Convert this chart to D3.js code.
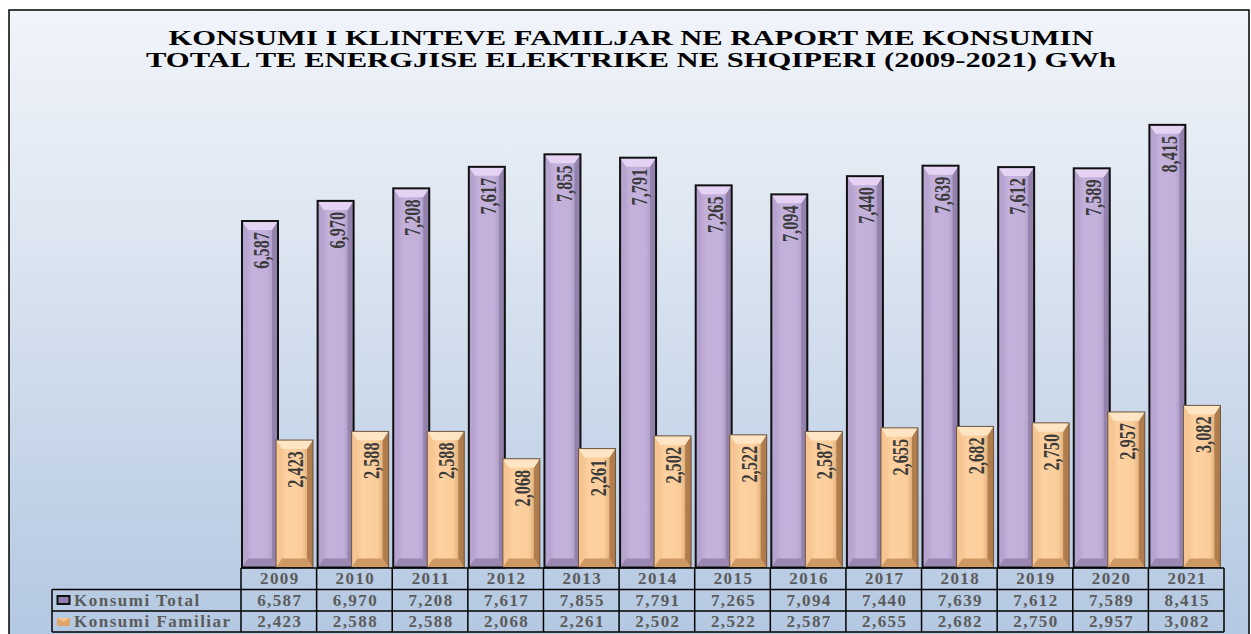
<!DOCTYPE html>
<html lang="en">
<head>
    <meta charset="UTF-8">
    <title>Konsumi i klienteve familjar</title>
    <script src="https://d3js.org/d3.v7.min.js"></script>
    <style>
        body { margin: 0; background: #ffffff; }
        svg { display: block; }
    </style>
</head>
<body>
    <div id="chart"></div>
    <script>
        const years = ["2009", "2010", "2011", "2012", "2013", "2014", "2015", "2016", "2017", "2018", "2019", "2020", "2021"];
        const konsumiTotal = [6587, 6970, 7208, 7617, 7855, 7791, 7265, 7094, 7440, 7639, 7612, 7589, 8415];
        const konsumiFamiliar = [2423, 2588, 2588, 2068, 2261, 2502, 2522, 2587, 2655, 2682, 2750, 2957, 3082];
        const seriesNames = ["Konsumi Total", "Konsumi Familiar"];
        const titleLines = [
            "KONSUMI I KLINTEVE FAMILJAR NE RAPORT ME KONSUMIN",
            "TOTAL TE ENERGJISE ELEKTRIKE NE SHQIPERI (2009-2021) GWh"
        ];

        const W = 1251, H = 634;
        const fmt = d3.format(",");

        const svg = d3.select("#chart").append("svg")
            .attr("width", W)
            .attr("height", H);

        const defs = svg.append("defs");
        const bg = defs.append("linearGradient").attr("id", "bg")
            .attr("x1", 0).attr("y1", 0).attr("x2", 0).attr("y2", 1);
        bg.append("stop").attr("offset", "0%").attr("stop-color", "#f1f4fa");
        bg.append("stop").attr("offset", "35%").attr("stop-color", "#dde6f1");
        bg.append("stop").attr("offset", "100%").attr("stop-color", "#b2c7e1");

        // bar palettes (face gradient + bevels)
        const palettes = {
            total: { id: "gTot", stops: ["#ad9bc6", "#c4b2dd", "#c2b0db", "#9f8eb8"],
                     top: "#e6d3f3", bottom: "#9a88b3", left: "#b7a4d0", right: "#8f7ea8", stroke: "#111" },
            fam: { id: "gFam", stops: ["#f0bd88", "#fdd1a1", "#fbcd9b", "#c9935f"],
                   top: "#ffe5c3", bottom: "#cf9964", left: "#f6c692", right: "#a97547", stroke: "#6b5440" }
        };
        Object.values(palettes).forEach(p => {
            const g = defs.append("linearGradient").attr("id", p.id)
                .attr("x1", 0).attr("y1", 0).attr("x2", 1).attr("y2", 0);
            [0, 0.3, 0.7, 1].forEach((o, i) => g.append("stop").attr("offset", o).attr("stop-color", p.stops[i]));
        });

        // background + frame
        svg.append("rect").attr("x", 9).attr("y", 10).attr("width", 1240).attr("height", 640)
            .attr("fill", "url(#bg)").attr("stroke", "#000").attr("stroke-width", 1.5);

        // title
        svg.selectAll(".title").data(titleLines).enter().append("text")
            .attr("x", 631)
            .attr("y", (d, i) => 45 + i * 22)
            .attr("text-anchor", "middle")
            .attr("textLength", (d, i) => i === 0 ? 925 : 970)
            .attr("lengthAdjust", "spacingAndGlyphs")
            .style("font-family", "'Liberation Serif', 'Times New Roman', serif")
            .style("font-weight", "bold")
            .style("font-size", "21px")
            .attr("fill", "#000")
            .text(d => d);

        const x = d3.scaleBand().domain(years).range([241, 1224]);
        const y = d3.scaleLinear().domain([0, 10000]).range([567.5, 41.5]);

        function bevelBar(g, bx, by, bw, bh, p) {
            const b = 9, s = 6;
            const x0 = bx, x1 = bx + bw, y0 = by, y1 = by + bh;
            g.append("rect").attr("x", x0).attr("y", y0).attr("width", bw).attr("height", bh)
                .attr("fill", `url(#${p.id})`);
            g.append("polygon").attr("points", [[x0, y0], [x0 + s, y0 + b], [x0 + s, y1 - b], [x0, y1]].join(" "))
                .attr("fill", p.left).attr("opacity", 0.8);
            g.append("polygon").attr("points", [[x1, y0], [x1 - s, y0 + b], [x1 - s, y1 - b], [x1, y1]].join(" "))
                .attr("fill", p.right).attr("opacity", 0.85);
            g.append("polygon").attr("points", [[x0, y0], [x1, y0], [x1 - s, y0 + b], [x0 + s, y0 + b]].join(" "))
                .attr("fill", p.top);
            g.append("polygon").attr("points", [[x0, y1], [x1, y1], [x1 - s, y1 - b], [x0 + s, y1 - b]].join(" "))
                .attr("fill", p.bottom);
            g.append("rect").attr("x", x0).attr("y", y0).attr("width", bw).attr("height", bh)
                .attr("fill", "none").attr("stroke", p.stroke)
                .attr("stroke-width", p === palettes.total ? 2 : 1);
        }

        const labelFont = "'Liberation Serif', 'Times New Roman', serif";
        function barLabel(cx, top, v) {
            svg.append("text")
                .attr("transform", `translate(${cx},${top + 11}) rotate(-90) scale(0.68,1)`)
                .attr("text-anchor", "end")
                .attr("dominant-baseline", "central")
                .style("font-family", labelFont)
                .style("font-weight", "bold")
                .style("font-size", "24px")
                .attr("fill", "#3a3a3a")
                .text(fmt(v));
        }

        years.forEach((yr, i) => {
            const g = svg.append("g");
            const bx = x(yr);
            const tTop = y(konsumiTotal[i]);
            bevelBar(g, bx + 1, tTop, 36, y(0) - tTop, palettes.total);
            const fTop = y(konsumiFamiliar[i]);
            bevelBar(g, bx + 35, fTop, 37, y(0) - fTop, palettes.fam);
            barLabel(bx + 20, tTop, konsumiTotal[i]);
            barLabel(bx + 54, fTop, konsumiFamiliar[i]);
        });

        // data table
        const table = svg.append("g");
        const rows = [568, 589.5, 611, 632];
        const cellFont = { family: "'Liberation Serif', 'Times New Roman', serif", size: "17px" };
        const line = (x1, y1, x2, y2) => table.append("line")
            .attr("x1", x1).attr("y1", y1).attr("x2", x2).attr("y2", y2)
            .attr("stroke", "#000").attr("stroke-width", 1.5);

        line(241, rows[0], 1224, rows[0]);
        line(52, rows[1], 1224, rows[1]);
        line(52, rows[2], 1224, rows[2]);
        line(52, rows[3], 1224, rows[3]);
        line(52, rows[1], 52, rows[3]);
        years.forEach(yr => line(x(yr), rows[0], x(yr), rows[3]));
        line(1224, rows[0], 1224, rows[3]);

        const cellText = (tx, ty, t, anchor, ls) => table.append("text")
            .attr("x", tx).attr("y", ty)
            .attr("text-anchor", anchor || "middle")
            .style("font-family", cellFont.family)
            .style("font-weight", "bold")
            .style("font-size", cellFont.size)
            .style("letter-spacing", ls || "1.4px")
            .attr("fill", "#5b5b5b")
            .text(t);

        years.forEach((yr, i) => {
            const cx = x(yr) + x.bandwidth() / 2 + 1;
            cellText(cx, rows[0] + 16, yr);
            cellText(cx, rows[1] + 16, fmt(konsumiTotal[i]));
            cellText(cx, rows[2] + 16, fmt(konsumiFamiliar[i]));
        });

        // legend keys in table
        table.append("rect").attr("x", 57.5).attr("y", 596).attr("width", 12).attr("height", 8)
            .attr("fill", "#8f7eab").attr("stroke", "#111").attr("stroke-width", 2);
        table.append("rect").attr("x", 57).attr("y", 618).attr("width", 13).attr("height", 8)
            .attr("fill", "#f6c28e");
        table.append("polygon").attr("points", "57,618 63.5,622 70,618 70,626 57,626")
            .attr("fill", "#d9975a").attr("opacity", 0.7);
        cellText(74, rows[1] + 16, seriesNames[0], "start", "1.5px");
        cellText(74, rows[2] + 16, seriesNames[1], "start", "1.5px");
    </script>
</body>
</html>
